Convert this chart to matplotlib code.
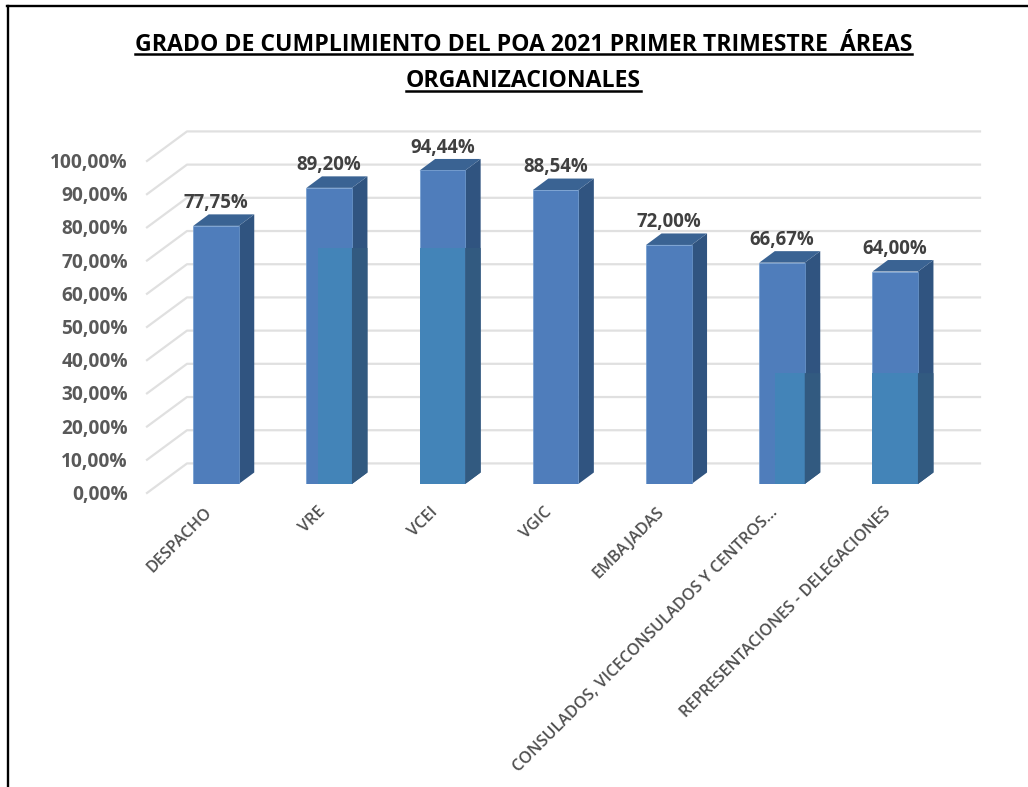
import matplotlib
matplotlib.use("Agg")
import matplotlib.pyplot as plt
from matplotlib.patches import Polygon, Rectangle
from matplotlib.lines import Line2D

W, H = 1028, 787
categories = ["DESPACHO", "VRE", "VCEI", "VGIC", "EMBAJADAS",
              "CONSULADOS, VICECONSULADOS Y CENTROS...",
              "REPRESENTACIONES - DELEGACIONES"]
values = [77.75, 89.20, 94.44, 88.54, 72.00, 66.67, 64.00]
value_labels = ["77,75%", "89,20%", "94,44%", "88,54%", "72,00%", "66,67%", "64,00%"]
overlay_heights = [0, 71.1, 71.1, 0, 0, 33.4, 33.4]
overlay_start = [0, 0.25, 0, 0, 0, 0.35, 0]
ticks = list(range(0, 101, 10))
tick_labels = [f"{t},00%" for t in ticks]
title_lines = ["GRADO DE CUMPLIMIENTO DEL POA 2021 PRIMER TRIMESTRE  ÁREAS", "ORGANIZACIONALES"]

FONT = "Open Sans"
fig = plt.figure(figsize=(W / 100, H / 100), dpi=100, facecolor="white")
step = 113.2
x0 = 216 - 0.5 * step
y_base, y_top = 484, 152
ax = fig.add_axes([x0 / W, 1 - y_base / H, 7 * step / W, (y_base - y_top) / H])
ax.set_xlim(-0.5, 6.5)
ax.set_ylim(0, 100)
ax.axis("off")

bw = 45.5 / step
dx = 15.5 / step
dy = 11.5 / 3.32

wall_off = 6.2
left_front = (147 - x0) / step - 0.5
left_back = (187 - x0) / step - 0.5
right_end = (980 - x0) / step - 0.5
for t in ticks:
    ax.plot([left_front, left_back, right_end],
            [t - 2.7, t + wall_off, t + wall_off],
            color="#e0e0e0", lw=1.6, clip_on=False, zorder=1)

front = "#4f7dbb"
side = "#305480"
topc = "#3a6393"
teal = "#4384b8"
teal_side = "#325a80"
for i, v in enumerate(values):
    l, r = i - bw / 2, i + bw / 2
    ax.add_patch(Polygon([(r, 0), (r + dx, dy), (r + dx, v + dy), (r, v)], fc=side, ec="none", zorder=3))
    ax.add_patch(Polygon([(l, v), (r, v), (r + dx, v + dy), (l + dx, v + dy)], fc=topc, ec="none", zorder=3))
    ax.add_patch(Rectangle((l, 0), bw, v, fc=front, ec="#6f9bd0", lw=0.5, zorder=4))
    h = overlay_heights[i]
    if h:
        ax.add_patch(Rectangle((l + overlay_start[i] * bw, 0), (1 - overlay_start[i]) * bw, h,
                               fc=teal, ec="none", zorder=5))
        ax.add_patch(Polygon([(r, 0), (r + dx, dy), (r + dx, h), (r, h)], fc=teal_side, ec="none", zorder=5))
    ax.text(i, v + dy + 0.4, value_labels[i], ha="center", va="bottom", fontsize=13.4,
            fontweight="bold", color="#404040", family=FONT, zorder=6)

for t, lab in zip(ticks, tick_labels):
    ax.text(-0.5 + (128 - x0) / step, t - 3.3, lab, ha="right", va="center", fontsize=13.8,
            fontweight="bold", color="#595959", family=FONT, clip_on=False)

for i, c in enumerate(categories):
    ax.annotate(c, (i, 0), xytext=(-8.8, -14.5), textcoords="offset points", rotation=45,
                rotation_mode="anchor", ha="right", va="top", fontsize=11.7,
                color="#505050", family=FONT, fontweight="semibold", annotation_clip=False)

fig.add_artist(Line2D([7.5 / W, 7.5 / W], [0, 1 - 6 / H], color="black", lw=1.7))
fig.add_artist(Line2D([6.5 / W, 1], [1 - 6 / H, 1 - 6 / H], color="black", lw=1.7))

r = fig.canvas.get_renderer()
for line, yc, yu in zip(title_lines, [45, 81], [54, 91]):
    t = fig.text(523.5 / W, 1 - yc / H, line, ha="center", va="center", fontsize=16.6,
                 fontweight="bold", color="black", family=FONT)
    bb = t.get_window_extent(r)
    fig.add_artist(Line2D([bb.x0 / W, bb.x1 / W], [1 - yu / H] * 2, color="black", lw=1.8))

fig.savefig("out.png", dpi=100)
